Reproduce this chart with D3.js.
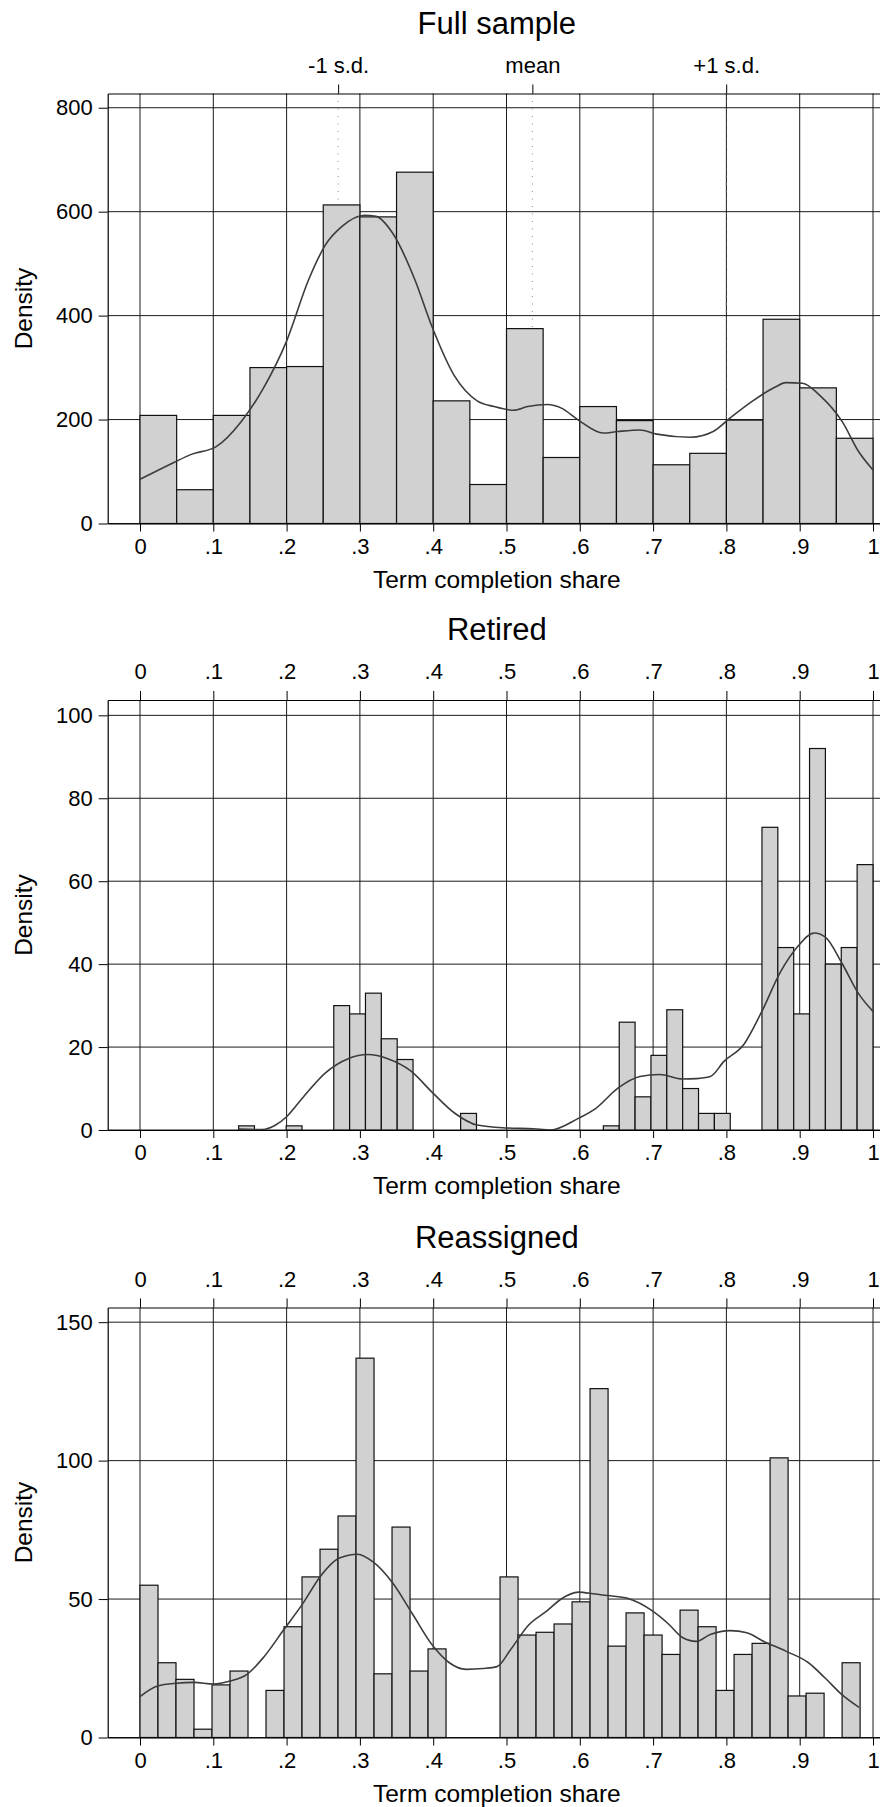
<!DOCTYPE html>
<html>
<head>
<meta charset="utf-8">
<script src="https://cdn.jsdelivr.net/npm/d3@7.9.0/dist/d3.min.js"></script>
<style>
  body { margin: 0; background: #fff; }
  svg { display: block; font-family: "Liberation Sans", Arial, sans-serif; }
</style>
</head>
<body>
<svg id="chart" width="880" height="1807"></svg>
<script>
// ---- data ----
const xTicks = [0, .1, .2, .3, .4, .5, .6, .7, .8, .9, 1];

// Full sample: 20 bins of width .05
const fullStart = 0;
const fullWidth = 0.05;
const fullHeights = [208, 65, 208, 300, 302, 613, 590, 676, 236, 75,
                     375, 127, 225, 198, 113, 135, 199, 393, 261, 164];
const fullKdeX = [0, .047, .07, .104, .138, .169, .2, .23, .253, .276, .306, .322, .345, .375, .398,
                  .429, .46, .483, .51, .529, .556, .575, .598, .632, .652, .682, .705, .751, .782,
                  .805, .836, .866, .881, .904, .927, .958, .981, 1];
const fullKdeY = [85, 118, 133, 148, 196, 262, 351, 469, 536, 572, 593, 591, 558, 469, 380,
                  284, 236, 225, 218, 225, 229, 222, 199, 174, 177, 180, 172, 166, 177,
                  203, 236, 262, 271, 270, 247, 196, 137, 103];
const fullYTicks = [0, 200, 400, 600, 800];
const sdTicks = [0.2703, 0.5353, 0.7997];
const sdLabels = ["-1 s.d.", "mean", "+1 s.d."];

// Retired: 40 bins from the minimum
const retiredStart = 0.1345;
const retiredWidth = 0.021637;
const retiredHeights = [1, 0, 0, 1, 0, 0, 30, 28, 33, 22, 17, 0, 0, 0, 4,
                        0, 0, 0, 0, 0, 0, 0, 0,
                        1, 26, 8, 18, 29, 10, 4, 4, 0, 0, 73, 44, 28, 92, 40, 44, 64];
const retiredKdeX = [.1345, .167, .185, .2, .222, .253, .284, .311, .338, .369, .398, .429, .46, .5,
                     .537, .56, .598, .621, .652, .682, .709, .74, .759, .778, .797, .824, .847,
                     .874, .897, .92, .935, .958, .981, 1];
const retiredKdeY = [0.2, 0.1, 1.2, 3.2, 7.8, 13.8, 17.2, 18.2, 17.2, 14.3, 9.2, 4.1, 1.2, 0.5,
                     0.3, 0, 2.8, 5.1, 10.1, 12.9, 13.4, 12.3, 12.4, 12.9, 16.6, 20.7, 28.1,
                     38.2, 44.2, 47.5, 46.5, 40.1, 32.7, 28.6];
const retiredYTicks = [0, 20, 40, 60, 80, 100];

// Reassigned: 40 bins from 0
const reassignedStart = 0;
const reassignedWidth = 0.02456;
const reassignedHeights = [55, 27, 21, 3, 19, 24, 0, 17, 40, 58, 68, 80, 137, 23, 76, 24, 32, 0, 0, 0,
                           58, 37, 38, 41, 49, 126, 33, 45, 37, 30, 46, 40, 17, 30, 34, 101, 15, 16, 0, 27];
const reassignedKdeX = [0, .024, .05, .074, .1, .123, .146, .169, .196, .223, .245, .272, .297, .318,
                        .345, .372, .399, .422, .445, .468, .487, .506, .529, .556, .575, .598, .621,
                        .644, .667, .698, .721, .74, .759, .778, .805, .828, .851, .881, .912, .935,
                        .958, .981];
const reassignedKdeY = [14.8, 18.6, 19.6, 19.9, 19.3, 20.4, 22.8, 29.1, 38.9, 48.7, 57.8, 64.8, 66.2, 63.4,
                        55.7, 44.5, 33.3, 27, 24.6, 24.9, 25.6, 31.9, 40.3, 45.9, 50.1, 52.5, 51.8,
                        51.1, 50.1, 45.9, 41, 36.1, 34.7, 37.2, 38.6, 37.8, 34.7, 31.2, 27, 21.4,
                        15.4, 10.9];
const reassignedYTicks = [0, 50, 100, 150];

// ---- layout ----
const plotLeft = 107.7, plotRight = 886;
const panelH = 430;
const panels = [
  { title: "Full sample", top: 93.5, yTop: 827.4, yTicks: fullYTicks,
    start: fullStart, width: fullWidth, heights: fullHeights,
    kdeX: fullKdeX, kdeY: fullKdeY, sd: true },
  { title: "Retired", top: 700, yTop: 103.7, yTicks: retiredYTicks,
    start: retiredStart, width: retiredWidth, heights: retiredHeights,
    kdeX: retiredKdeX, kdeY: retiredKdeY, sd: false },
  { title: "Reassigned", top: 1307.5, yTop: 155.3, yTicks: reassignedYTicks,
    start: reassignedStart, width: reassignedWidth, heights: reassignedHeights,
    kdeX: reassignedKdeX, kdeY: reassignedKdeY, sd: false }
];

const svg = d3.select("#chart");
svg.append("rect").attr("width", 880).attr("height", 1807).attr("fill", "#fff");

// x: 0 sits at 140px, 1 at 873px; plot region is a bit wider
const x = d3.scaleLinear().domain([0, 1]).range([140, 873]);
const xPlot = d3.scaleLinear().domain([x.invert(plotLeft), x.invert(plotRight)]).range([plotLeft, plotRight]);
const fmtX = d => d === 0 ? "0" : d === 1 ? "1" : d3.format(".1f")(d).replace(/^0/, "");

const line = d3.line().curve(d3.curveMonotoneX);

panels.forEach(p => {
  const T = p.top, Z = p.top + panelH;
  const y = d3.scaleLinear().domain([0, p.yTop]).range([Z, T]);
  const g = svg.append("g");

  // grid
  g.append("g").selectAll("line").data(p.yTicks).join("line")
    .attr("x1", plotLeft).attr("x2", plotRight)
    .attr("y1", d => y(d)).attr("y2", d => y(d))
    .attr("stroke", "#1a1a1a").attr("stroke-width", 1);
  g.append("g").selectAll("line").data(xTicks).join("line")
    .attr("x1", d => x(d)).attr("x2", d => x(d))
    .attr("y1", T).attr("y2", Z)
    .attr("stroke", "#1a1a1a").attr("stroke-width", 1);

  // mean / s.d. markers
  if (p.sd) {
    g.append("g").selectAll("line").data(sdTicks).join("line")
      .attr("x1", d => x(d)).attr("x2", d => x(d))
      .attr("y1", T).attr("y2", Z)
      .attr("stroke", "#888").attr("stroke-width", 1)
      .attr("stroke-dasharray", "1,6.5");
  }

  // bars
  const bins = p.heights.map((h, i) => ({ x0: p.start + i * p.width, x1: p.start + (i + 1) * p.width, h }))
    .filter(d => d.h > 0);
  g.append("g").selectAll("rect").data(bins).join("rect")
    .attr("x", d => x(d.x0)).attr("width", d => x(d.x1) - x(d.x0))
    .attr("y", d => y(d.h)).attr("height", d => Z - y(d.h))
    .attr("fill", "#d1d1d1").attr("stroke", "#111").attr("stroke-width", 1.2);

  // kernel density
  g.append("path")
    .attr("d", line(p.kdeX.map((v, i) => [x(v), y(p.kdeY[i])])))
    .attr("fill", "none").attr("stroke", "#3c3c3c").attr("stroke-width", 1.6);

  // axes
  const left = g.append("g").attr("transform", `translate(${plotLeft},0)`)
    .call(d3.axisLeft(y).tickValues(p.yTicks).tickSize(9).tickSizeOuter(0).tickPadding(6).tickFormat(d3.format("d")));
  const bottom = g.append("g").attr("transform", `translate(0,${Z})`)
    .call(d3.axisBottom(xPlot).tickValues(xTicks).tickSize(8).tickSizeOuter(0).tickPadding(6.4).tickFormat(fmtX));
  const topAx = d3.axisTop(xPlot).tickSize(9).tickSizeOuter(0).tickPadding(12);
  if (p.sd) topAx.tickValues(sdTicks).tickFormat((d, i) => sdLabels[i]);
  else topAx.tickValues(xTicks).tickFormat(fmtX);
  const top = g.append("g").attr("transform", `translate(0,${T})`).call(topAx);

  [left, bottom, top].forEach(a => {
    a.selectAll(".domain").attr("stroke", "#000").attr("stroke-width", 1.2);
    a.selectAll(".tick line").attr("stroke", "#000").attr("stroke-width", 1);
    a.selectAll(".tick text").attr("fill", "#000").style("font-size", "22px")
      .style("font-family", "'Liberation Sans', Arial, sans-serif");
  });

  // titles
  g.append("text").attr("x", (plotLeft + plotRight) / 2).attr("y", T - 60)
    .attr("text-anchor", "middle").style("font-size", "31px").text(p.title);
  g.append("text").attr("x", (plotLeft + plotRight) / 2).attr("y", Z + 64)
    .attr("text-anchor", "middle").style("font-size", "24.5px").text("Term completion share");
  g.append("text").attr("transform", `translate(32,${(T + Z) / 2}) rotate(-90)`)
    .attr("text-anchor", "middle").style("font-size", "24.5px").text("Density");
});
</script>
</body>
</html>
